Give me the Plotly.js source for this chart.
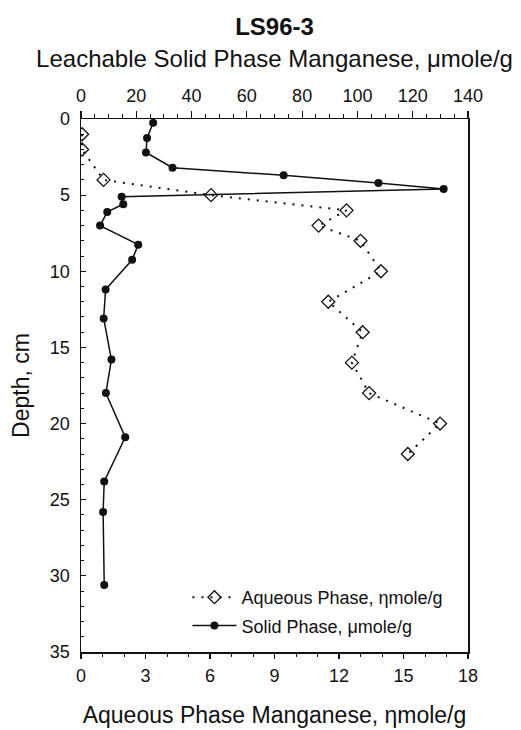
<!DOCTYPE html>
<html>
<head>
<meta charset="utf-8">
<script src="https://cdn.plot.ly/plotly-3.0.1.min.js"></script>
<style>
  html, body { margin: 0; padding: 0; background: #fff; }
  #chart { width: 521px; height: 730px; }
</style>
</head>
<body>
<div id="chart"></div>
<script>
// Aqueous phase manganese (nmole/g) vs depth (cm)
const depthAqueous = [1, 2, 4, 5, 6, 7, 8, 10, 12, 14, 16, 18, 20, 22];
const aqueousMn = [0.05, 0.05, 1.05, 6.05, 12.35, 11.05, 13.0, 13.95, 11.5, 13.1, 12.6, 13.4, 16.7, 15.2];

// Leachable solid phase manganese (umole/g) vs depth (cm)
const depthSolid = [0.25, 1.25, 2.2, 3.2, 3.7, 4.2, 4.6, 5.1, 5.6, 6.1, 7.0, 8.25, 9.25, 11.2, 13.1, 15.8, 18.0, 20.9, 23.8, 25.8, 30.6];
const solidMn = [26.1, 23.9, 23.5, 33.1, 73.3, 107.6, 131.2, 14.7, 15.3, 9.5, 6.9, 20.7, 18.5, 8.9, 8.2, 11.0, 9.0, 16.0, 8.4, 8.0, 8.4];

const seriesNames = ["Aqueous Phase, \u03b7mole/g", "Solid Phase, \u03bcmole/g"];
const chartTitle = "LS96-3";
const topAxisTitle = "Leachable Solid Phase Manganese, \u03bcmole/g";
const bottomAxisTitle = "Aqueous Phase Manganese, \u03b7mole/g";
const yAxisTitle = "Depth, cm";

const FONT = "'Liberation Sans', Arial, Helvetica, sans-serif";
const INK = "#111";

const traces = [
  {
    x: aqueousMn, y: depthAqueous, name: seriesNames[0],
    type: "scatter", mode: "lines+markers", xaxis: "x", yaxis: "y",
    line: { color: INK, width: 2, dash: "2px,7px" },
    marker: { symbol: "diamond-open", size: 10, color: INK, line: { width: 1.3, color: INK } },
    legendgroup: "a"
  },
  {
    x: solidMn, y: depthSolid, name: seriesNames[1],
    type: "scatter", mode: "lines+markers", xaxis: "x2", yaxis: "y",
    line: { color: INK, width: 1.5 },
    marker: { symbol: "circle", size: 8, color: INK },
    legendgroup: "b"
  }
];

const layout = {
  width: 521, height: 730,
  margin: { l: 80.5, r: 52.5, t: 119, b: 78, pad: 0 },
  paper_bgcolor: "#fff", plot_bgcolor: "#fff",
  font: { family: FONT, color: INK, size: 18 },
  showlegend: true,
  title: {
    text: "<b>" + chartTitle + "</b>",
    font: { family: FONT, size: 24, color: INK },
    x: 0.5, xref: "paper", xanchor: "center",
    y: 1 - 27 / 730, yref: "container", yanchor: "middle"
  },
  xaxis: {
    range: [0, 18], dtick: 3, tick0: 0,
    showgrid: false, zeroline: false,
    showline: true, linecolor: INK, linewidth: 1.5,
    ticks: "outside", ticklen: 5, tickwidth: 1.2, tickcolor: INK,
    minor: { dtick: 1, ticks: "outside", ticklen: 3, tickcolor: INK, tickwidth: 1 },
    ticklabelstandoff: 2,
    tickfont: { family: FONT, size: 18, color: INK },
    title: { text: bottomAxisTitle, font: { family: FONT, size: 23, color: INK }, standoff: 22 }
  },
  xaxis2: {
    overlaying: "x", side: "top", anchor: "y",
    range: [0, 140], dtick: 20, tick0: 0,
    showgrid: false, zeroline: false,
    showline: true, linecolor: INK, linewidth: 1.5,
    ticks: "outside", ticklen: 7, tickwidth: 1.2, tickcolor: INK,
    minor: { dtick: 5, ticks: "outside", ticklen: 4, tickcolor: INK, tickwidth: 1 },
    ticklabelstandoff: 1,
    tickfont: { family: FONT, size: 18, color: INK },
    title: { text: topAxisTitle, font: { family: FONT, size: 24, color: INK }, standoff: 12 }
  },
  yaxis: {
    range: [35, 0], dtick: 5, tick0: 0,
    showgrid: false, zeroline: false,
    showline: true, linecolor: INK, linewidth: 1.5, mirror: true,
    ticks: "inside", ticklen: 5, tickwidth: 1.2, tickcolor: INK,
    minor: { dtick: 1, ticks: "inside", ticklen: 3, tickcolor: INK, tickwidth: 1 },
    ticklabelstandoff: 6,
    tickfont: { family: FONT, size: 18, color: INK },
    title: { text: yAxisTitle, font: { family: FONT, size: 23, color: INK }, standoff: 14 }
  },
  legend: {
    x: 0.275, xanchor: "left", y: 0.015, yanchor: "bottom",
    bgcolor: "rgba(255,255,255,0)", borderwidth: 0,
    font: { family: FONT, size: 18, color: INK },
    itemwidth: 44,
    traceorder: "grouped", tracegroupgap: 2
  }
};

Plotly.newPlot("chart", traces, layout, { staticPlot: true, displayModeBar: false });
</script>
</body>
</html>
